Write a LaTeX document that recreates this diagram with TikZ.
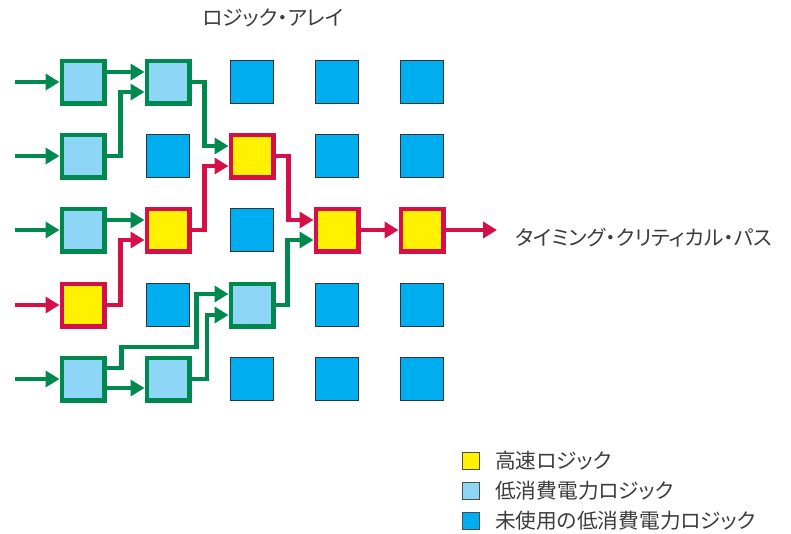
\documentclass[tikz,border=0pt]{standalone}
\usepackage{fontspec}
\setmainfont{Noto Sans CJK JP}[RawFeature=+palt]
\usetikzlibrary{arrows.meta}
\definecolor{lgreen}{RGB}{0,137,79}
\definecolor{lred}{RGB}{213,16,72}
\definecolor{lyellow}{RGB}{255,241,0}
\definecolor{llblue}{RGB}{142,214,245}
\definecolor{lblue}{RGB}{0,174,239}
\definecolor{ltext}{RGB}{60,60,60}
\begin{document}
\begin{tikzpicture}[x=1pt,y=-1pt,
  fastbox/.style={draw=lred,fill=lyellow,line width=4.5pt,minimum size=42.5pt,inner sep=0pt},
  lowbox/.style={draw=lgreen,fill=llblue,line width=4.5pt,minimum size=42.5pt,inner sep=0pt},
  unusedbox/.style={draw=black!80,fill=lblue,line width=1.2pt,minimum size=43pt,inner sep=0pt},
  garrow/.style={draw=lgreen,line width=4.5pt,-{Triangle[length=14pt,width=16pt]}},
  rarrow/.style={draw=lred,line width=4.5pt,-{Triangle[length=14pt,width=16pt]}},
  lbl/.style={text=ltext,font=\fontsize{20.7}{24}\selectfont,inner sep=0pt},
  legbox/.style={draw=black!70,line width=0.8pt,minimum size=17pt,inner sep=0pt}]
\useasboundingbox (0,0) rectangle (791,533);
% row 1
\node[lowbox] (n11) at (83,82) {};
\node[lowbox] (n12) at (168,82) {};
\node[unusedbox] (n13) at (252,82) {};
\node[unusedbox] (n14) at (337,82) {};
\node[unusedbox] (n15) at (422,82) {};
% row 2
\node[lowbox] (n21) at (83,156) {};
\node[unusedbox] (n22) at (168,156) {};
\node[fastbox] (n23) at (252,156) {};
\node[unusedbox] (n24) at (337,156) {};
\node[unusedbox] (n25) at (422,156) {};
% row 3
\node[lowbox] (n31) at (83,230) {};
\node[fastbox] (n32) at (168,230) {};
\node[unusedbox] (n33) at (252,230) {};
\node[fastbox] (n34) at (337,230) {};
\node[fastbox] (n35) at (422,230) {};
% row 4
\node[fastbox] (n41) at (83,305) {};
\node[unusedbox] (n42) at (168,305) {};
\node[lowbox] (n43) at (252,305) {};
\node[unusedbox] (n44) at (337,305) {};
\node[unusedbox] (n45) at (422,305) {};
% row 5
\node[lowbox] (n51) at (83,379) {};
\node[lowbox] (n52) at (168,379) {};
\node[unusedbox] (n53) at (252,379) {};
\node[unusedbox] (n54) at (337,379) {};
\node[unusedbox] (n55) at (422,379) {};
% inputs
\coordinate (i1) at (15,82);
\coordinate (i2) at (15,156);
\coordinate (i3) at (15,230);
\coordinate (i4) at (15,305);
\coordinate (i5) at (15,379);
\coordinate (out) at (497,230);
\draw[garrow] (i1) -- (n11.west);
\draw[garrow] (i2) -- (n21.west);
\draw[garrow] (i3) -- (n31.west);
\draw[rarrow] (i4) -- (n41.west);
\draw[garrow] (i5) -- (n51.west);
% connections
\draw[garrow] ([yshift=10pt]n11.east) -- ([yshift=10pt]n12.west);
\draw[garrow] (n21.east) -- ++(14,0) |- ([yshift=-10pt]n12.west);
\draw[garrow] (n12.east) -- ++(13,0) |- ([yshift=10pt]n23.west);
\draw[rarrow] (n32.east) -- ++(13,0) |- ([yshift=-10pt]n23.west);
\draw[garrow] ([yshift=10pt]n31.east) -- ([yshift=10pt]n32.west);
\draw[rarrow] (n41.east) -- ++(14,0) |- ([yshift=-10pt]n32.west);
\draw[rarrow] (n23.east) -- ++(13,0) |- ([yshift=10pt]n34.west);
\draw[garrow] (n43.east) -- ++(12,0) |- ([yshift=-10pt]n34.west);
\draw[rarrow] (n34.east) -- (n35.west);
\draw[rarrow] (n35.east) -- (out);
\draw[garrow] ([yshift=-9pt]n51.east) -- ([yshift=-9pt]n52.west);
\draw[garrow] ([yshift=11pt]n51.east) -- ++(15,0) -- ++(0,-21) -- ++(75,0) |- ([yshift=11pt]n43.west);
\draw[garrow] (n52.east) -- ++(15.5,0) |- ([yshift=-10pt]n43.west);
% labels
\node[lbl] (title) at (273,18) {ロジック・アレイ};
\node[lbl,anchor=west] (cpath) at (515,238) {タイミング・クリティカル・パス};
% legend
\node[legbox,fill=lyellow] (lg1) at (471,461) {};
\node[legbox,fill=llblue] (lg2) at (471,491) {};
\node[legbox,fill=lblue] (lg3) at (471,521) {};
\node[lbl,anchor=west] (lt1) at (495,461) {高速ロジック};
\node[lbl,anchor=west] (lt2) at (495,491) {低消費電力ロジック};
\node[lbl,anchor=west] (lt3) at (495,521) {未使用の低消費電力ロジック};
\end{tikzpicture}
\end{document}
